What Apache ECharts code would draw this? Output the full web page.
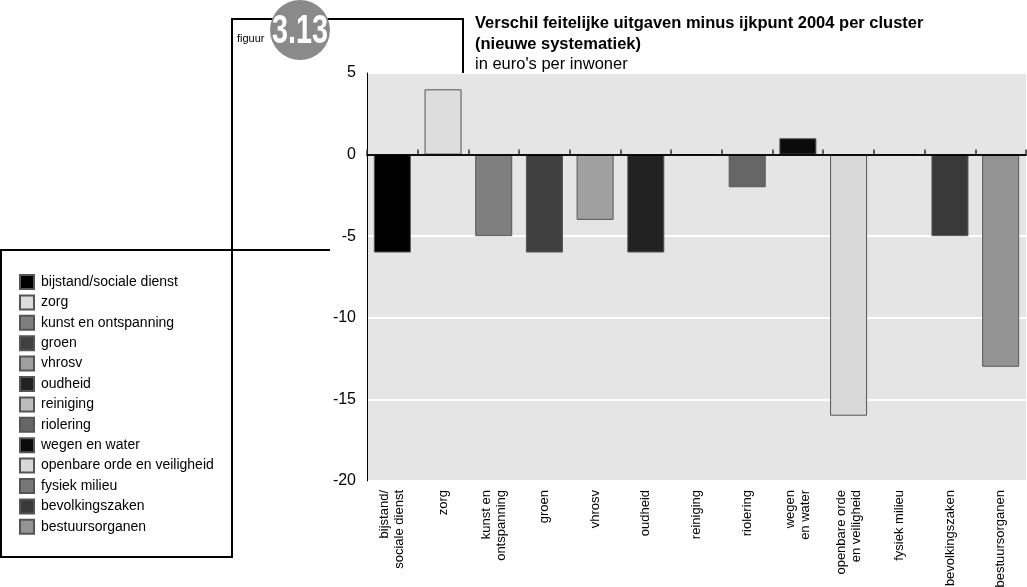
<!DOCTYPE html>
<html>
<head>
<meta charset="utf-8">
<script src="https://cdn.jsdelivr.net/npm/echarts@6/dist/echarts.min.js"></script>
<style>
html,body{margin:0;padding:0;background:#fff;}
#c{width:1027px;height:587px;}
</style>
</head>
<body>
<div id="c"></div>
<script>
var categoryLabels = ['bijstand/\nsociale dienst','zorg','kunst en\nontspanning','groen','vhrosv','oudheid','reiniging','riolering','wegen\nen water','openbare orde\nen veiligheid','fysiek milieu','bevolkingszaken','bestuursorganen'];
var clusterNames = ['bijstand/sociale dienst','zorg','kunst en ontspanning','groen','vhrosv','oudheid','reiniging','riolering','wegen en water','openbare orde en veiligheid','fysiek milieu','bevolkingszaken','bestuursorganen'];
var values = [-6, 4, -5, -6, -4, -6, 0, -2, 1, -16, 0, -5, -13];
var colors = ['#000000','#dddddd','#7f7f7f','#404040','#a0a0a0','#222222','#bcbcbc','#666666','#0b0b0b','#d8d8d8','#777777','#393939','#949494'];
var yTicks = [-20, -15, -10, -5, 0, 5];

var FONT = 'Liberation Sans, Arial, sans-serif';
var chart = echarts.init(document.getElementById('c'));

var series = clusterNames.map(function (name, i) {
  return {
    name: name,
    type: 'bar',
    stack: 'total',
    barWidth: '73%',
    itemStyle: { color: colors[i], borderColor: '#555', borderWidth: 1 },
    data: categoryLabels.map(function (c, j) { return j === i ? values[i] : '-'; })
  };
});

var option = {
  animation: false,
  textStyle: { fontFamily: FONT },
  grid: {
    left: 367, right: 1, top: 73, bottom: 106,
    outerBoundsMode: 'none', containLabel: false,
    show: true, backgroundColor: '#e5e5e5', borderWidth: 0
  },
  legend: {
    orient: 'vertical',
    left: 19, top: 274, padding: 0,
    itemWidth: 14, itemHeight: 14, itemGap: 4.4,
    icon: 'rect',
    selectedMode: false,
    textStyle: { fontSize: 14, color: '#000', fontFamily: FONT, padding: [0, 0, 0, 2] },
    data: clusterNames
  },
  xAxis: [
    {
      type: 'category', data: categoryLabels, position: 'top', z: 5,
      axisLine: { onZero: true, onZeroAxisIndex: 0, lineStyle: { color: '#000', width: 1.5 } },
      axisTick: { show: true, interval: 0, length: 5, lineStyle: { color: '#333', width: 1.5 } },
      axisLabel: { show: false }, splitLine: { show: false }
    },
    {
      type: 'category', data: categoryLabels, position: 'bottom',
      axisLine: { show: false, onZero: false },
      axisTick: { show: false },
      axisLabel: {
        show: true, interval: 0, rotate: 90, margin: 9,
        fontSize: 13, lineHeight: 15, color: '#000', fontFamily: FONT, align: 'right'
      },
      splitLine: { show: false }
    },
    {
      type: 'category', data: categoryLabels, position: 'top', z: 5,
      axisLine: { onZero: true, onZeroAxisIndex: 0, lineStyle: { color: '#000', width: 1.5 } },
      axisTick: { show: true, interval: 0, length: 5, lineStyle: { color: '#333', width: 1.5 } },
      axisLabel: { show: false }, splitLine: { show: false }
    }
  ],
  yAxis: {
    type: 'value', min: -20, max: 5, interval: 5,
    axisLine: { show: true, onZero: false, lineStyle: { color: '#000', width: 1 } },
    axisTick: { show: false },
    axisLabel: {
      fontSize: 16, color: '#000', margin: 11, fontFamily: FONT,
      formatter: function (v) { return yTicks.indexOf(v) >= 0 ? String(v) : ''; }
    },
    splitLine: { show: true, lineStyle: { color: '#ffffff', width: 2 } }
  },
  graphic: [
    { type: 'polyline', shape: { points: [[232, 557], [232, 19], [463, 19], [463, 73]] }, style: { stroke: '#000', lineWidth: 2, fill: null }, z: 10 },
    { type: 'rect', shape: { x: 1, y: 250, width: 231, height: 307 }, style: { stroke: '#000', lineWidth: 2, fill: null }, z: 10 },
    { type: 'line', shape: { x1: 232, y1: 250, x2: 330, y2: 250 }, style: { stroke: '#000', lineWidth: 2 }, z: 10 },
    { type: 'circle', shape: { cx: 300, cy: 30, r: 30 }, style: { fill: '#8a8a8a' }, z: 11 },
    { type: 'text', x: 300, y: 32, scaleX: 0.72, z: 12,
      style: { text: '3.13', fill: '#fff', font: 'bold 40px "Liberation Sans Narrow", "Liberation Sans", Arial', align: 'center', verticalAlign: 'middle' } },
    { type: 'text', x: 237, y: 39, z: 12,
      style: { text: 'figuur', fill: '#000', font: '11px ' + FONT, verticalAlign: 'middle' } },
    { type: 'text', x: 475, y: 23, z: 12,
      style: { text: 'Verschil feitelijke uitgaven minus ijkpunt 2004 per cluster', fill: '#000', font: 'bold 16.5px ' + FONT, verticalAlign: 'middle' } },
    { type: 'text', x: 475, y: 44, z: 12,
      style: { text: '(nieuwe systematiek)', fill: '#000', font: 'bold 16.5px ' + FONT, verticalAlign: 'middle' } },
    { type: 'text', x: 475, y: 64, z: 12,
      style: { text: "in euro's per inwoner", fill: '#000', font: '16.5px ' + FONT, verticalAlign: 'middle' } }
  ],
  series: series
};
chart.setOption(option);
</script>
</body>
</html>
